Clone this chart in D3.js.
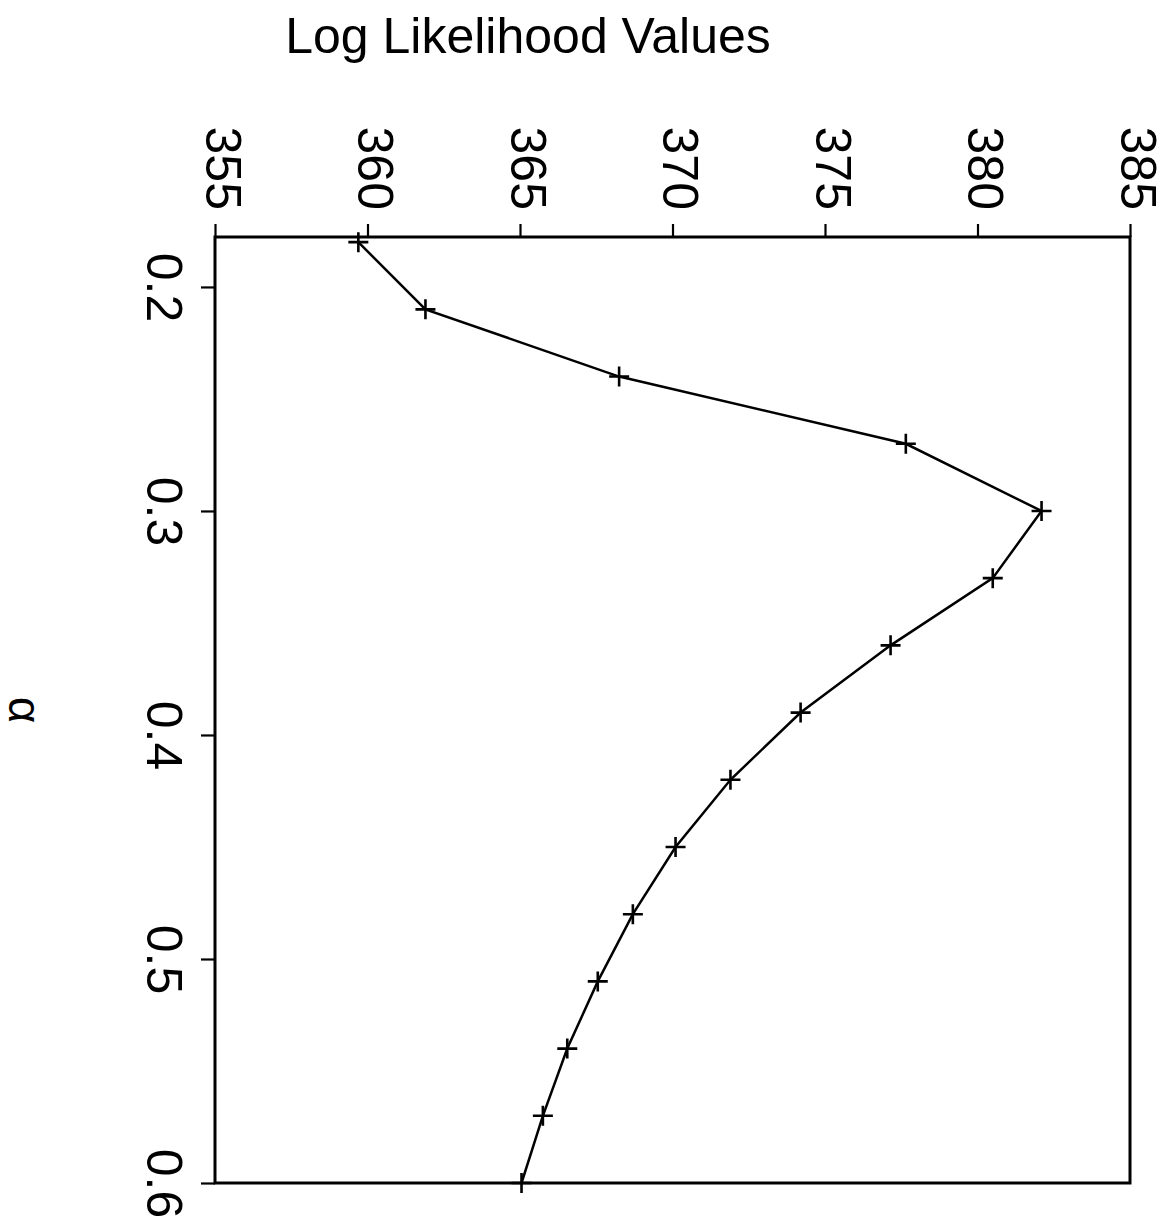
<!DOCTYPE html>
<html>
<head>
<meta charset="utf-8">
<script src="https://cdn.jsdelivr.net/npm/d3@7"></script>
<style>
  body { margin: 0; background: #fff; }
  text { font-family: "Liberation Sans", Arial, sans-serif; fill: #000; }
</style>
</head>
<body>
<div class="chart"></div>
<script>
// Data (plot is drawn rotated: alpha runs down, log likelihood runs across)
var alphaValues = [0.18, 0.21, 0.24, 0.27, 0.30, 0.33, 0.36, 0.39, 0.42, 0.45, 0.48, 0.51, 0.54, 0.57, 0.60];
var logLikValues = [359.7, 361.9, 368.25, 377.65, 382.1, 380.5, 377.15, 374.2, 371.9, 370.1, 368.7, 367.55, 366.55, 365.75, 365.05];
var llTicks = [355, 360, 365, 370, 375, 380, 385];
var alphaTicks = [0.2, 0.3, 0.4, 0.5, 0.6];

var svgWidth = 1174;
var svgHeight = 1232;

var margin = { top: 237, right: 44, bottom: 49, left: 215 };
var width = svgWidth - margin.left - margin.right;
var height = svgHeight - margin.top - margin.bottom;

var svg = d3.select(".chart")
  .append("svg")
  .attr("width", svgWidth)
  .attr("height", svgHeight);

var chartGroup = svg.append("g")
  .attr("transform", `translate(${margin.left}, ${margin.top})`);

// scales
var xScale = d3.scaleLinear().domain([355, 385]).range([0, width]);
var yScale = d3.scaleLinear().domain([0.1777, 0.6]).range([0, height]);

// top axis (log likelihood)
var topAxis = chartGroup.append("g")
  .call(d3.axisTop(xScale).tickValues(llTicks).tickSize(13).tickFormat(d3.format("d")));
topAxis.select(".domain").remove();
topAxis.selectAll("line").attr("stroke", "#000").attr("stroke-width", 2.2);
topAxis.selectAll("text")
  .attr("x", 0).attr("y", 0).attr("dy", 10)
  .attr("transform", "translate(0, -27) rotate(90)")
  .attr("text-anchor", "end")
  .style("font-size", "50px");

// left axis (alpha)
var leftAxis = chartGroup.append("g")
  .call(d3.axisLeft(yScale).tickValues(alphaTicks).tickSize(14).tickFormat(d3.format(".1f")));
leftAxis.select(".domain").remove();
leftAxis.selectAll("line").attr("stroke", "#000").attr("stroke-width", 2.2);
leftAxis.selectAll("text")
  .attr("x", 0).attr("y", 0).attr("dy", 0)
  .attr("transform", "translate(-68, 0) rotate(90)")
  .attr("text-anchor", "middle")
  .style("font-size", "50px");

// box
chartGroup.append("rect")
  .attr("x", 0).attr("y", 0)
  .attr("width", width).attr("height", height)
  .attr("fill", "none")
  .attr("stroke", "#000")
  .attr("stroke-width", 3);

// line
var points = alphaValues.map((a, i) => ({ alpha: a, ll: logLikValues[i] }));
var line = d3.line()
  .x(d => xScale(d.ll))
  .y(d => yScale(d.alpha));

chartGroup.append("path")
  .datum(points)
  .attr("d", line)
  .attr("fill", "none")
  .attr("stroke", "#000")
  .attr("stroke-width", 2.5);

// plus markers
chartGroup.selectAll(".marker")
  .data(points)
  .enter()
  .append("path")
  .attr("class", "marker")
  .attr("transform", d => `translate(${xScale(d.ll)}, ${yScale(d.alpha)})`)
  .attr("d", "M-10,0H10M0,-10V10")
  .attr("stroke", "#000")
  .attr("stroke-width", 2.6);

// labels
svg.append("text")
  .attr("x", 528)
  .attr("y", 53)
  .attr("text-anchor", "middle")
  .style("font-size", "50px")
  .text("Log Likelihood Values");

svg.append("text")
  .attr("transform", `translate(9, ${margin.top + height / 2}) rotate(90)`)
  .attr("text-anchor", "middle")
  .style("font-size", "46px")
  .text("α");
</script>
</body>
</html>
